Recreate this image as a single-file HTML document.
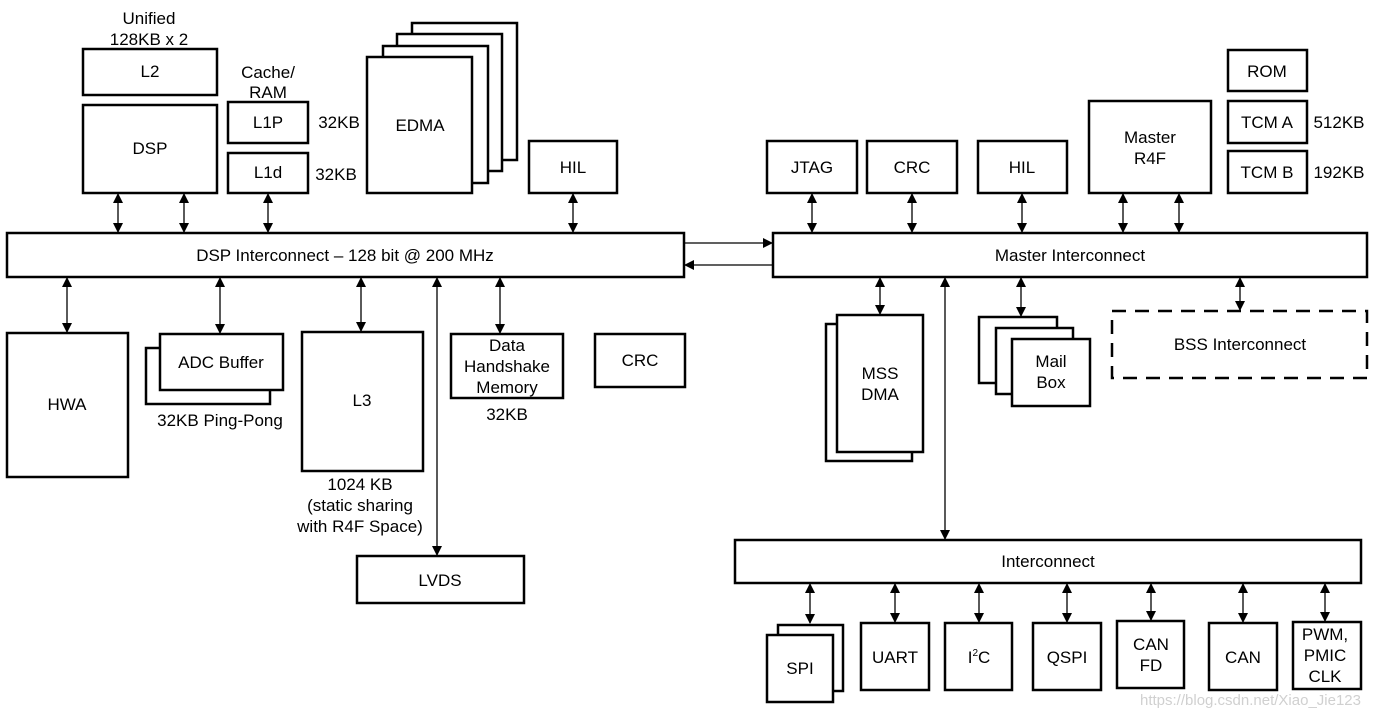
<!DOCTYPE html>
<html><head><meta charset="utf-8"><style>
html,body{margin:0;padding:0;background:#fff;}
svg{display:block;}
text{font-family:"Liberation Sans",Arial,sans-serif;font-size:17px;fill:#000;}
.b{fill:#fff;stroke:#000;stroke-width:2.5;}
.a{stroke:#000;stroke-width:1.3;fill:none;}
</style></head><body>
<svg width="1383" height="716" viewBox="0 0 1383 716" xmlns="http://www.w3.org/2000/svg">
<defs>
<marker id="m" markerWidth="10" markerHeight="10" refX="9" refY="5" orient="auto-start-reverse" markerUnits="userSpaceOnUse">
<path d="M0,0 L10,5 L0,10 z" fill="#000"/></marker>
</defs>
<g text-anchor="middle">
<text x="149" y="24">Unified</text><text x="149" y="45">128KB x 2</text>
<rect class="b" x="83" y="49" width="134" height="46"/><text x="150" y="77">L2</text>
<rect class="b" x="83" y="105" width="134" height="88"/><text x="150" y="154">DSP</text>
<text x="268" y="78">Cache/</text><text x="268" y="98">RAM</text>
<rect class="b" x="228" y="102" width="80" height="41"/><text x="268" y="128">L1P</text>
<rect class="b" x="228" y="153" width="80" height="40"/><text x="268" y="178">L1d</text>
<text x="339" y="128">32KB</text><text x="336" y="180">32KB</text>
<rect class="b" x="412" y="23" width="105" height="137"/>
<rect class="b" x="397" y="34" width="105" height="137"/>
<rect class="b" x="383" y="46" width="105" height="137"/>
<rect class="b" x="367" y="57" width="105" height="136"/><text x="420" y="131">EDMA</text>
<rect class="b" x="529" y="141" width="88" height="52"/><text x="573" y="173">HIL</text>
<rect class="b" x="7" y="233" width="677" height="44"/><text x="345" y="261">DSP Interconnect – 128 bit @ 200 MHz</text>
<rect class="b" x="773" y="233" width="594" height="44"/><text x="1070" y="261">Master Interconnect</text>
<line class="a" x1="685" y1="243" x2="772" y2="243" marker-end="url(#m)"/>
<line class="a" x1="772" y1="265" x2="685" y2="265" marker-end="url(#m)"/>
<line class="a" x1="118" y1="194" x2="118" y2="232" marker-start="url(#m)" marker-end="url(#m)"/>
<line class="a" x1="184" y1="194" x2="184" y2="232" marker-start="url(#m)" marker-end="url(#m)"/>
<line class="a" x1="268" y1="194" x2="268" y2="232" marker-start="url(#m)" marker-end="url(#m)"/>
<line class="a" x1="573" y1="194" x2="573" y2="232" marker-start="url(#m)" marker-end="url(#m)"/>
<line class="a" x1="67" y1="278" x2="67" y2="332" marker-start="url(#m)" marker-end="url(#m)"/>
<rect class="b" x="7" y="333" width="121" height="144"/><text x="67" y="410">HWA</text>
<line class="a" x1="220" y1="278" x2="220" y2="333" marker-start="url(#m)" marker-end="url(#m)"/>
<rect class="b" x="146" y="348" width="124" height="56"/>
<rect class="b" x="160" y="334" width="123" height="56"/><text x="221" y="368">ADC Buffer</text>
<text x="220" y="426">32KB Ping-Pong</text>
<line class="a" x1="361" y1="278" x2="361" y2="331" marker-start="url(#m)" marker-end="url(#m)"/>
<rect class="b" x="302" y="332" width="121" height="139"/><text x="362" y="406">L3</text>
<text x="360" y="490">1024 KB</text><text x="360" y="511">(static sharing</text><text x="360" y="532">with R4F Space)</text>
<line class="a" x1="437" y1="278" x2="437" y2="555" marker-start="url(#m)" marker-end="url(#m)"/>
<rect class="b" x="357" y="556" width="167" height="47"/><text x="440" y="586">LVDS</text>
<line class="a" x1="500" y1="278" x2="500" y2="333" marker-start="url(#m)" marker-end="url(#m)"/>
<rect class="b" x="451" y="334" width="112" height="64"/>
<text x="507" y="351">Data</text><text x="507" y="372">Handshake</text><text x="507" y="393">Memory</text>
<text x="507" y="420">32KB</text>
<rect class="b" x="595" y="334" width="90" height="53"/><text x="640" y="366">CRC</text>
<rect class="b" x="767" y="141" width="90" height="52"/><text x="812" y="173">JTAG</text>
<rect class="b" x="867" y="141" width="90" height="52"/><text x="912" y="173">CRC</text>
<rect class="b" x="978" y="141" width="89" height="52"/><text x="1022" y="173">HIL</text>
<rect class="b" x="1089" y="101" width="122" height="92"/><text x="1150" y="143">Master</text><text x="1150" y="164">R4F</text>
<rect class="b" x="1228" y="50" width="79" height="41"/><text x="1267" y="77">ROM</text>
<rect class="b" x="1228" y="101" width="79" height="42"/><text x="1267" y="128">TCM A</text>
<rect class="b" x="1228" y="151" width="79" height="42"/><text x="1267" y="178">TCM B</text>
<text x="1339" y="128">512KB</text><text x="1339" y="178">192KB</text>
<line class="a" x1="812" y1="194" x2="812" y2="232" marker-start="url(#m)" marker-end="url(#m)"/>
<line class="a" x1="912" y1="194" x2="912" y2="232" marker-start="url(#m)" marker-end="url(#m)"/>
<line class="a" x1="1022" y1="194" x2="1022" y2="232" marker-start="url(#m)" marker-end="url(#m)"/>
<line class="a" x1="1123" y1="194" x2="1123" y2="232" marker-start="url(#m)" marker-end="url(#m)"/>
<line class="a" x1="1179" y1="194" x2="1179" y2="232" marker-start="url(#m)" marker-end="url(#m)"/>
<line class="a" x1="880" y1="278" x2="880" y2="314" marker-start="url(#m)" marker-end="url(#m)"/>
<rect class="b" x="826" y="324" width="86" height="137"/>
<rect class="b" x="837" y="315" width="86" height="137"/><text x="880" y="379">MSS</text><text x="880" y="400">DMA</text>
<line class="a" x1="945" y1="278" x2="945" y2="539" marker-start="url(#m)" marker-end="url(#m)"/>
<line class="a" x1="1021" y1="278" x2="1021" y2="316" marker-start="url(#m)" marker-end="url(#m)"/>
<rect class="b" x="979" y="317" width="78" height="66"/>
<rect class="b" x="996" y="328" width="77" height="66"/>
<rect class="b" x="1012" y="339" width="78" height="67"/><text x="1051" y="367">Mail</text><text x="1051" y="388">Box</text>
<line class="a" x1="1240" y1="278" x2="1240" y2="310" marker-start="url(#m)" marker-end="url(#m)"/>
<rect x="1112" y="311" width="255" height="67" fill="none" stroke="#000" stroke-width="2.5" stroke-dasharray="14,9"/>
<text x="1240" y="350">BSS Interconnect</text>
<rect class="b" x="735" y="540" width="626" height="43"/><text x="1048" y="567">Interconnect</text>
<line class="a" x1="810" y1="584" x2="810" y2="623" marker-start="url(#m)" marker-end="url(#m)"/>
<rect class="b" x="778" y="625" width="65" height="66"/>
<rect class="b" x="767" y="635" width="66" height="67"/><text x="800" y="674">SPI</text>
<line class="a" x1="895" y1="584" x2="895" y2="622" marker-start="url(#m)" marker-end="url(#m)"/>
<rect class="b" x="861" y="623" width="68" height="67"/><text x="895" y="663">UART</text>
<line class="a" x1="979" y1="584" x2="979" y2="622" marker-start="url(#m)" marker-end="url(#m)"/>
<rect class="b" x="945" y="623" width="67" height="67"/><text x="979" y="663">I<tspan font-size="10" dy="-7">2</tspan><tspan dy="7">C</tspan></text>
<line class="a" x1="1067" y1="584" x2="1067" y2="622" marker-start="url(#m)" marker-end="url(#m)"/>
<rect class="b" x="1033" y="623" width="68" height="67"/><text x="1067" y="663">QSPI</text>
<line class="a" x1="1151" y1="584" x2="1151" y2="620" marker-start="url(#m)" marker-end="url(#m)"/>
<rect class="b" x="1117" y="621" width="67" height="67"/><text x="1151" y="650">CAN</text><text x="1151" y="671">FD</text>
<line class="a" x1="1243" y1="584" x2="1243" y2="622" marker-start="url(#m)" marker-end="url(#m)"/>
<rect class="b" x="1209" y="623" width="68" height="67"/><text x="1243" y="663">CAN</text>
<line class="a" x1="1325" y1="584" x2="1325" y2="621" marker-start="url(#m)" marker-end="url(#m)"/>
<rect class="b" x="1293" y="622" width="68" height="67"/><text x="1325" y="640">PWM,</text><text x="1325" y="661">PMIC</text><text x="1325" y="682">CLK</text>
</g>
<text x="1140" y="705" style="fill:#d0d0d0;font-size:15px">https://blog.csdn.net/Xiao_Jie123</text>
</svg>
</body></html>
